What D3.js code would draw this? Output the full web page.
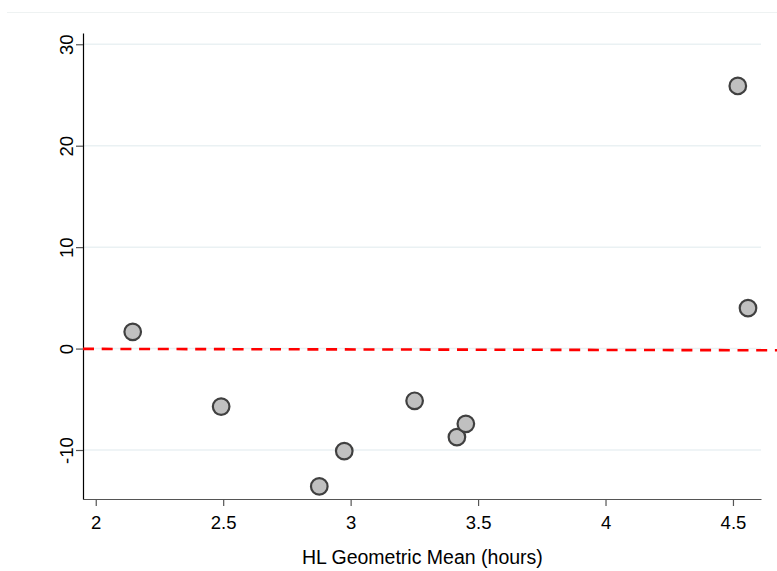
<!DOCTYPE html>
<html>
<head>
<meta charset="utf-8">
<script src="https://d3js.org/d3.v7.min.js"></script>
<style>
  body { margin: 0; background: #fff; }
  text { font-family: "Liberation Sans", Arial, sans-serif; fill: #000; }
</style>
</head>
<body>
<div id="chart"></div>
<script>
// data
var meanHours  = [2.145, 2.492, 2.877, 2.975, 3.251, 3.417, 3.452, 4.519, 4.559];
var difference = [1.65, -5.72, -13.59, -10.11, -5.15, -8.73, -7.42, 25.89, 3.99];
var fitX = [1.95, 4.673];
var fitY = [-0.03, -0.17];
var xTicks = [2, 2.5, 3, 3.5, 4, 4.5];
var yTicks = [-10, 0, 10, 20, 30];
var xTitle = "HL Geometric Mean (hours)";

var W = 777, H = 571;

var svg = d3.select("#chart").append("svg")
    .attr("width", W)
    .attr("height", H);

// plot region
var x = d3.scaleLinear().domain([1.95, 4.61]).range([83, 761]);
var y = d3.scaleLinear().domain([-14.83, 31.11]).range([499, 33]);

// faint outer graph border on top
svg.append("line")
    .attr("x1", 7).attr("x2", W)
    .attr("y1", 12.5).attr("y2", 12.5)
    .style("stroke", "#eef2f2")
    .style("stroke-width", 1.2);

// gridlines
svg.append("g")
  .selectAll("line")
  .data(yTicks)
  .enter().append("line")
    .attr("x1", x.range()[0]).attr("x2", x.range()[1])
    .attr("y1", function(d) { return y(d); })
    .attr("y2", function(d) { return y(d); })
    .style("stroke", "#eaf1f3")
    .style("stroke-width", 1.5);

// x axis
var gx = svg.append("g")
    .attr("transform", "translate(0," + y.range()[0] + ")")
    .call(d3.axisBottom(x).tickValues(xTicks).tickSize(7).tickSizeOuter(0)
      .tickFormat(function(d) { return d; }));
gx.select(".domain").attr("stroke", "#555").attr("stroke-width", 1.2);
gx.selectAll(".tick line").attr("stroke", "#555").attr("stroke-width", 1.2);
gx.selectAll(".tick text")
    .attr("y", 30.3).attr("dy", null)
    .style("font-size", "18.5px")
    .style("font-family", "Liberation Sans, Arial, sans-serif");

// y axis
var gy = svg.append("g")
    .attr("transform", "translate(" + x.range()[0] + ",0)")
    .call(d3.axisLeft(y).tickValues(yTicks).tickSize(7).tickSizeOuter(0)
      .tickFormat(function(d) { return d; }));
gy.select(".domain").attr("stroke", "#000").attr("stroke-width", 1.2);
gy.selectAll(".tick line").attr("stroke", "#555").attr("stroke-width", 1.2);
gy.selectAll(".tick text")
    .attr("x", null).attr("dy", null)
    .attr("transform", "translate(-10,0) rotate(-90)")
    .style("text-anchor", "middle")
    .style("font-size", "18.5px")
    .style("font-family", "Liberation Sans, Arial, sans-serif");

// axis title
svg.append("text")
    .attr("x", (x(2) + x(4.5)) / 2 + 8)
    .attr("y", 564)
    .style("text-anchor", "middle")
    .style("font-size", "19.5px")
    .text(xTitle);

// dashed reference line
svg.append("line")
    .attr("x1", x(fitX[0])).attr("x2", x(fitX[1]))
    .attr("y1", y(fitY[0])).attr("y2", y(fitY[1]))
    .style("stroke", "#ff0000")
    .style("stroke-width", 2.6)
    .style("stroke-dasharray", "11,7.7");

// points
svg.append("g")
  .selectAll("circle")
  .data(meanHours)
  .enter().append("circle")
    .attr("cx", function(d) { return x(d); })
    .attr("cy", function(d, i) { return y(difference[i]); })
    .attr("r", 8.3)
    .style("fill", "#c0c0c0")
    .style("stroke", "#404040")
    .style("stroke-width", 2.2);
</script>
</body>
</html>
